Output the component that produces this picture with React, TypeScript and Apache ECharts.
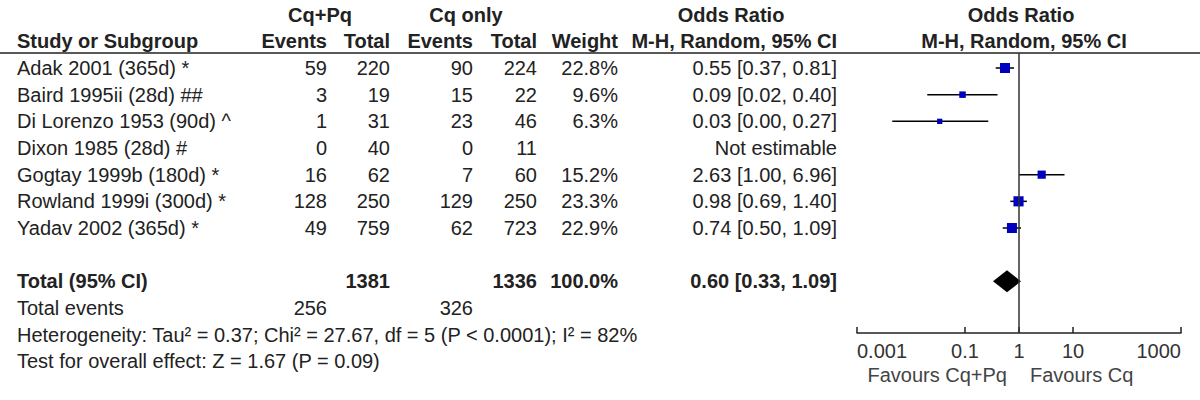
import React, { useEffect, useRef } from 'react';
import * as echarts from 'echarts';

// ---------- data ----------
const studies = [
  'Adak 2001 (365d) *',
  'Baird 1995ii (28d) ##',
  'Di Lorenzo 1953 (90d) ^',
  'Dixon 1985 (28d) #',
  'Gogtay 1999b (180d) *',
  'Rowland 1999i (300d) *',
  'Yadav 2002 (365d) *',
];
const expEvents = [59, 3, 1, 0, 16, 128, 49];
const expTotal = [220, 19, 31, 40, 62, 250, 759];
const ctlEvents = [90, 15, 23, 0, 7, 129, 62];
const ctlTotal = [224, 22, 46, 11, 60, 250, 723];
const weights: (number | null)[] = [22.8, 9.6, 6.3, null, 15.2, 23.3, 22.9];
const oddsRatio: (number | null)[] = [0.55, 0.09, 0.034, null, 2.63, 0.98, 0.74];
const ciLower: (number | null)[] = [0.37, 0.02, 0.0045, null, 1.0, 0.69, 0.5];
const ciUpper: (number | null)[] = [0.81, 0.4, 0.27, null, 6.96, 1.4, 1.09];

const totalOR = 0.6;
const totalLower = 0.33;
const totalUpper = 1.09;
const totalWeight = '100.0%';

const heterogeneityText =
  'Heterogeneity: Tau² = 0.37; Chi² = 27.67, df = 5 (P < 0.0001); I² = 82%';
const overallEffectText = 'Test for overall effect: Z = 1.67 (P = 0.09)';

const tickValues = [0.001, 0.1, 1, 10, 1000];
const tickLabels = ['0.001', '0.1', '1', '10', '1000'];
const favoursLeft = 'Favours Cq+Pq';
const favoursRight = 'Favours Cq';

// ---------- layout ----------
const FONT = '"Liberation Sans", Arial, Helvetica, sans-serif';
const FS = 20;
const TEXT = '#222';
const GRID_TOP = 53;
const GRID_H = 280;
const Y_MIN = -0.5625;
const Y_MAX = 9.9375;
const UNIT = GRID_H / (Y_MAX - Y_MIN);
const rowY = (r: number) => GRID_TOP + (r - Y_MIN) * UNIT;
const TOTAL_ROW = 8;

const COL = { name: 17, ee: 327, et: 390, ce: 473, ct: 537, w: 618, or: 837 };

const fmt = (v: number) => v.toFixed(2);
const ciText = (o: number, l: number, h: number) => `${fmt(o)} [${fmt(l)}, ${fmt(h)}]`;

function txt(
  x: number,
  y: number,
  text: string,
  align: 'left' | 'right' | 'center',
  bold = false,
  color = TEXT
) {
  return {
    type: 'text',
    x,
    y,
    silent: true,
    style: {
      text,
      fill: color,
      fontSize: FS,
      fontWeight: bold ? 'bold' : 'normal',
      fontFamily: FONT,
      align,
      verticalAlign: 'middle',
    },
  };
}

export default function App() {
  const ref = useRef<HTMLDivElement>(null);

  useEffect(() => {
    document.body.style.margin = '0';
    if (!ref.current) return;
    const chart = echarts.init(ref.current, undefined, { renderer: 'svg' });

    const sum = (a: number[]) => a.reduce((s, v) => s + v, 0);

    const graphics: any[] = [];
    // header
    graphics.push(txt(320, 15, 'Cq+Pq', 'center', true));
    graphics.push(txt(466, 15, 'Cq only', 'center', true));
    graphics.push(txt(731, 15, 'Odds Ratio', 'center', true));
    graphics.push(txt(1021, 15, 'Odds Ratio', 'center', true));
    graphics.push(txt(COL.name, 41, 'Study or Subgroup', 'left', true));
    graphics.push(txt(COL.ee, 41, 'Events', 'right', true));
    graphics.push(txt(COL.et, 41, 'Total', 'right', true));
    graphics.push(txt(COL.ce, 41, 'Events', 'right', true));
    graphics.push(txt(COL.ct, 41, 'Total', 'right', true));
    graphics.push(txt(COL.w, 41, 'Weight', 'right', true));
    graphics.push(txt(COL.or, 41, 'M-H, Random, 95% CI', 'right', true));
    graphics.push(txt(1024, 41, 'M-H, Random, 95% CI', 'center', true));
    graphics.push({
      type: 'line',
      silent: true,
      shape: { x1: 0, y1: GRID_TOP, x2: 1200, y2: GRID_TOP },
      style: { stroke: '#222', lineWidth: 1.5 },
    });

    studies.forEach((s, i) => {
      const y = rowY(i);
      graphics.push(txt(COL.name, y, s, 'left'));
      graphics.push(txt(COL.ee, y, String(expEvents[i]), 'right'));
      graphics.push(txt(COL.et, y, String(expTotal[i]), 'right'));
      graphics.push(txt(COL.ce, y, String(ctlEvents[i]), 'right'));
      graphics.push(txt(COL.ct, y, String(ctlTotal[i]), 'right'));
      const w = weights[i];
      if (w != null) graphics.push(txt(COL.w, y, `${w.toFixed(1)}%`, 'right'));
      const o = oddsRatio[i];
      const l = ciLower[i];
      const h = ciUpper[i];
      graphics.push(
        txt(COL.or, y, o != null && l != null && h != null ? ciText(o, l, h) : 'Not estimable', 'right')
      );
    });

    const ty = rowY(TOTAL_ROW);
    graphics.push(txt(COL.name, ty, 'Total (95% CI)', 'left', true));
    graphics.push(txt(COL.et, ty, String(sum(expTotal)), 'right', true));
    graphics.push(txt(COL.ct, ty, String(sum(ctlTotal)), 'right', true));
    graphics.push(txt(COL.w, ty, totalWeight, 'right', true));
    graphics.push(txt(COL.or, ty, ciText(totalOR, totalLower, totalUpper), 'right', true));

    const ey = rowY(TOTAL_ROW + 1);
    graphics.push(txt(COL.name, ey, 'Total events', 'left'));
    graphics.push(txt(COL.ee, ey, String(sum(expEvents)), 'right'));
    graphics.push(txt(COL.ce, ey, String(sum(ctlEvents)), 'right'));
    graphics.push(txt(COL.name, rowY(TOTAL_ROW + 2), heterogeneityText, 'left'));
    graphics.push(txt(COL.name, rowY(TOTAL_ROW + 3), overallEffectText, 'left'));

    graphics.push(txt(1007, 375, favoursLeft, 'right', false, '#444'));
    graphics.push(txt(1030, 375, favoursRight, 'left', false, '#444'));

    const studyData: number[][] = [];
    studies.forEach((_, i) => {
      const o = oddsRatio[i];
      const l = ciLower[i];
      const h = ciUpper[i];
      const w = weights[i];
      if (o != null && l != null && h != null && w != null) studyData.push([o, i, l, h, w]);
    });

    chart.setOption({
      animation: false,
      backgroundColor: '#fff',
      grid: { left: 857, width: 324, top: GRID_TOP, height: GRID_H },
      xAxis: {
        type: 'log',
        logBase: 10,
        min: 0.001,
        max: 1000,
        axisLine: { show: true, onZero: false, lineStyle: { color: '#222', width: 1.5 } },
        axisTick: {
          show: true,
          inside: true,
          length: 6,
          customValues: tickValues,
          lineStyle: { color: '#222', width: 1.5 },
        },
        axisLabel: {
          customValues: tickValues,
          formatter: (v: number) => {
            const k = tickValues.findIndex((t) => Math.abs(Math.log10(t) - Math.log10(v)) < 1e-6);
            return k >= 0 ? tickLabels[k] : '';
          },
          fontSize: FS,
          fontFamily: FONT,
          color: '#333',
          margin: 8,
          alignMinLabel: 'left',
          alignMaxLabel: 'right',
        },
        splitLine: { show: false },
      },
      yAxis: { type: 'value', inverse: true, min: Y_MIN, max: Y_MAX, show: false },
      series: [
        {
          type: 'line',
          data: [
            [1, Y_MIN],
            [1, Y_MAX],
          ],
          symbol: 'none',
          silent: true,
          lineStyle: { color: '#333', width: 1.5 },
        },
        {
          type: 'custom',
          data: studyData,
          encode: { x: 0, y: 1 },
          silent: true,
          renderItem: (_p: any, api: any) => {
            const y = api.value(1);
            const c = api.coord([api.value(0), y]);
            const lo = api.coord([api.value(2), y]);
            const hi = api.coord([api.value(3), y]);
            const s = 2.1 * Math.sqrt(api.value(4));
            return {
              type: 'group',
              children: [
                {
                  type: 'line',
                  shape: { x1: lo[0], y1: lo[1], x2: hi[0], y2: hi[1] },
                  style: { stroke: '#000', lineWidth: 1.5 },
                },
                {
                  type: 'rect',
                  shape: { x: c[0] - s / 2, y: c[1] - s / 2, width: s, height: s },
                  style: { fill: '#0000c0' },
                },
              ],
            };
          },
        },
        {
          type: 'custom',
          data: [[totalOR, TOTAL_ROW, totalLower, totalUpper]],
          encode: { x: 0, y: 1 },
          silent: true,
          renderItem: (_p: any, api: any) => {
            const y = api.value(1);
            const c = api.coord([api.value(0), y]);
            const lo = api.coord([api.value(2), y]);
            const hi = api.coord([api.value(3), y]);
            const hh = 11;
            return {
              type: 'polygon',
              shape: {
                points: [
                  [lo[0], lo[1]],
                  [c[0], c[1] - hh],
                  [hi[0], hi[1]],
                  [c[0], c[1] + hh],
                ],
              },
              style: { fill: '#000' },
            };
          },
        },
      ],
      graphic: graphics,
    });

    return () => chart.dispose();
  }, []);

  return <div ref={ref} style={{ width: 1200, height: 400 }} />;
}
